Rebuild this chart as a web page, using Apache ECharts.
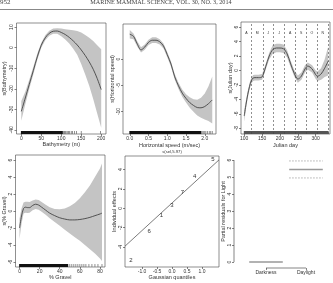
<!DOCTYPE html>
<html>
<head>
<meta charset="utf-8">
<script src="https://cdn.jsdelivr.net/npm/echarts@6/dist/echarts.min.js"></script>
<style>
html, body { margin: 0; padding: 0; background: #fff; }
#chart { width: 333px; height: 283px; }
</style>
</head>
<body>
<div id="chart"></div>
<script>
// page header
const pageNo = "952";
const journal = "MARINE MAMMAL SCIENCE, VOL. 30, NO. 3, 2014";

// s(Bathymetry)
const bathyX = [0, 10, 20, 30, 40, 50, 60, 70, 80, 90, 100, 110, 120, 130, 140, 150, 160, 170, 180, 190, 200];
const bathyFit = [-31, -24.5, -17.8, -11.2, -4.5, 1.2, 4.8, 7, 8, 8.1, 7.4, 6.4, 5, 3.3, 1.3, -1.1, -3.8, -6.9, -10.5, -15, -20.4];
const bathyLo = [-35.5, -27.5, -20, -13, -6, 0, 3.6, 5.8, 6.8, 6.8, 5.6, 4, 2, -0.5, -3.5, -8, -13, -18.5, -25, -32, -39];
const bathyHi = [-26, -21.5, -15.6, -9.4, -3, 2.4, 6, 8.2, 9.3, 9.5, 9.3, 8.9, 8.7, 8.5, 8.1, 7.4, 6.2, 4.8, 3.2, 1.2, -0.8];
const bathyRug = [[0, 103], [106, 106], [108, 108], [110, 110], [112, 112], [115, 115], [118, 118], [121, 121], [125, 125], [128, 128], [133, 133], [138, 138], [150, 150], [198, 198]];

// s(Horizontal speed)
const speedX = [0, 0.1, 0.2, 0.3, 0.4, 0.5, 0.6, 0.7, 0.8, 0.9, 1.0, 1.1, 1.2, 1.3, 1.4, 1.5, 1.6, 1.7, 1.8, 1.9, 2.0, 2.1, 2.2];
const speedFit = [4.75, 4.35, 2.9, 1.75, 2.3, 3.2, 3.6, 3.6, 3.3, 2.5, 0.85, -0.95, -3.4, -5.1, -6.5, -7.5, -8.3, -8.85, -9.25, -9.3, -9.05, -8.5, -7.8];
const speedLo = [3.95, 3.8, 2.4, 1.25, 1.8, 2.7, 3.05, 3.05, 2.8, 2.0, 0.35, -1.45, -3.95, -5.7, -7.2, -8.3, -9.3, -10.05, -10.75, -11.2, -11.55, -11.8, -12.3];
const speedHi = [5.55, 4.9, 3.4, 2.25, 2.8, 3.7, 4.15, 4.15, 3.8, 3.0, 1.35, -0.45, -2.85, -4.5, -5.8, -6.7, -7.3, -7.65, -7.75, -7.4, -6.55, -5.2, -3.3];
const speedRug = [[0, 1.9], [1.93, 1.93], [1.96, 1.96], [2.0, 2.0], [2.03, 2.03], [2.07, 2.07], [2.12, 2.12], [2.16, 2.16], [2.2, 2.2]];

// s(Julian day)
const julX = [100, 105, 110, 115, 120, 125, 130, 140, 150, 160, 170, 180, 190, 200, 210, 220, 230, 240, 250, 260, 270, 278, 290, 300, 305, 315, 325, 335];
const julFit = [-6.3, -4.7, -3.3, -2.2, -1.4, -1.05, -1.0, -1.0, -0.9, 0.5, 2.0, 2.9, 3.1, 3.1, 3.0, 2.3, 0.9, -0.4, -1.2, -0.8, 0.2, 0.6, 0.2, -0.6, -0.8, -0.5, 0.3, 1.3];
const julLo = [-7.1, -5.3, -3.8, -2.65, -1.8, -1.45, -1.4, -1.4, -1.3, 0.1, 1.55, 2.3, 2.5, 2.5, 2.4, 1.8, 0.45, -0.85, -1.7, -1.3, -0.3, 0.1, -0.3, -1.2, -1.45, -1.3, -0.9, -0.7];
const julHi = [-5.5, -4.1, -2.8, -1.75, -1.0, -0.65, -0.6, -0.6, -0.5, 0.9, 2.45, 3.5, 3.7, 3.7, 3.6, 2.8, 1.35, 0.05, -0.7, -0.3, 0.7, 1.1, 0.7, 0.0, -0.15, 0.3, 1.5, 3.3];
const julRug = [[100, 335]];
const monthStarts = [121, 152, 182, 213, 244, 274, 305, 335];
const monthMid = [106, 136.5, 167, 197.5, 228.5, 259, 289.5, 320];
const monthLetters = ["A", "M", "J", "J", "A", "S", "O", "N"];

// s(% Gravel)
const gravX = [0, 2, 4, 6, 8, 10, 13, 16, 19, 22, 26, 30, 35, 40, 45, 50, 55, 60, 65, 70, 75, 80, 82];
const gravFit = [-2.0, -0.6, 0.3, 0.45, 0.4, 0.4, 0.65, 0.8, 0.7, 0.45, 0.1, -0.25, -0.55, -0.8, -0.95, -1.05, -1.05, -1.0, -0.9, -0.75, -0.55, -0.35, -0.25];
const gravLo = [-3.3, -1.5, -0.3, -0.2, -0.25, -0.2, 0.1, 0.25, 0.15, -0.1, -0.45, -0.85, -1.3, -1.75, -2.2, -2.65, -3.1, -3.5, -4.0, -4.5, -5.0, -5.6, -5.9];
const gravHi = [-0.9, 0.3, 1.0, 1.1, 1.1, 1.05, 1.25, 1.35, 1.3, 1.05, 0.75, 0.45, 0.25, 0.2, 0.3, 0.55, 0.95, 1.5, 2.2, 3.0, 4.0, 5.0, 5.6];
const gravRug = [[0, 48], [50, 50], [52, 52], [54, 54], [56, 56], [58, 58], [60, 60], [62, 62], [64, 64], [66, 66], [69, 69], [72, 72], [75, 75], [78, 78], [82, 82]];

// random effect qq plot
const qqIds = ["2", "6", "1", "3", "7", "4", "5"];
const qqTheo = [-1.37, -0.76, -0.35, 0, 0.35, 0.76, 1.37];
const qqSample = [-5.4, -2.35, -0.75, 0.27, 1.6, 3.35, 5.05];
const qqLineX = [-1.57, 1.57];
const qqLineY = [-3.9, 5.0];

// Light factor
const lightLevels = ["Darkness", "Daylight"];
const lightFit = [0, 5.45];
const lightSe = [0, 0.5];

const FONT = "Liberation Sans, Arial, sans-serif";
const INK = "#333";

const grids = [
  { left: 13, top: 23, width: 93, height: 111 },
  { left: 123, top: 24, width: 93, height: 110 },
  { left: 241, top: 22, width: 89, height: 112 },
  { left: 13, top: 155, width: 92, height: 112 },
  { left: 125, top: 156, width: 94, height: 111 },
  { left: 234, top: 155, width: 96, height: 113 }
];

const xs = [
  { min: -12, max: 212, ticks: [0, 50, 100, 150, 200], name: "Bathymetry (m)", gap: 6.5 },
  { min: -0.18, max: 2.3, ticks: [0, 0.5, 1, 1.5, 2], name: "Horizontal speed (m/sec)", gap: 8, fmt: v => v.toFixed(1) },
  { min: 91, max: 340, ticks: [100, 150, 200, 250, 300], name: "Julian day", gap: 8.5 },
  { min: -4, max: 85, ticks: [0, 20, 40, 60, 80], name: "% Gravel", gap: 5.5 },
  { min: -1.57, max: 1.57, ticks: [-1, -0.5, 0, 0.5, 1], name: "Gaussian quantiles", gap: 7.5, fmt: v => v.toFixed(1) },
  { min: 0.2, max: 2.6, ticks: [1, 2], name: "", gap: 8, fmt: v => lightLevels[Math.round(v) - 1] }
];

const ys = [
  { min: -42, max: 12, ticks: [10, 0, -10, -20, -30, -40], name: "s(Bathymetry)", gap: 9.5 },
  { min: -14.3, max: 6.7, ticks: [0, -5, -10], name: "s(Horizontal speed)", gap: 7 },
  { min: -8.8, max: 6.7, ticks: [6, 4, 2, 0, -2, -4, -6, -8], name: "s(Julian day)", gap: 7 },
  { min: -6.6, max: 6.6, ticks: [6, 4, 2, 0, -2, -4, -6], name: "s(% Gravel)", gap: 8.5 },
  { min: -6.05, max: 5.4, ticks: [4, 2, 0, -2, -4], name: "Individual effects", gap: 6.5 },
  { min: -0.35, max: 6.3, ticks: [0, 1, 2, 3, 4, 5, 6], name: "Partial residuals for Light", gap: 5 }
];

function xAxis(o, i) {
  return {
    type: "value", gridIndex: i, min: o.min, max: o.max,
    name: o.name, nameLocation: "middle", nameGap: o.gap,
    nameTextStyle: { fontSize: 5.5, color: INK, fontFamily: FONT },
    axisLine: { show: false, onZero: false }, splitLine: { show: false },
    axisTick: { show: true, length: 2, customValues: o.ticks, lineStyle: { color: INK, width: 0.6 } },
    axisLabel: { show: true, customValues: o.ticks, fontSize: 5, color: INK, margin: 2, fontFamily: FONT, formatter: o.fmt }
  };
}

function yAxis(o, i) {
  return {
    type: "value", gridIndex: i, min: o.min, max: o.max,
    name: o.name, nameLocation: "middle", nameGap: o.gap,
    nameTextStyle: { fontSize: 5.5, color: INK, fontFamily: FONT },
    axisLine: { show: false, onZero: false }, splitLine: { show: false },
    axisTick: { show: true, length: 2, customValues: o.ticks, lineStyle: { color: INK, width: 0.6 } },
    axisLabel: { show: true, customValues: o.ticks, rotate: 90, fontSize: 5, color: INK, margin: 2, fontFamily: FONT }
  };
}

function bandSeries(gi, xv, lo, hi) {
  return {
    type: "custom", xAxisIndex: gi, yAxisIndex: gi, silent: true, clip: true, z: 1,
    data: [[xv[0], lo[0]]],
    renderItem: function (params, api) {
      const top = xv.map((x, i) => api.coord([x, hi[i]]));
      const bot = xv.map((x, i) => api.coord([x, lo[i]])).reverse();
      return { type: "polygon", shape: { points: top.concat(bot) }, style: { fill: "#c4c4c4" } };
    }
  };
}

function fitSeries(gi, xv, yv) {
  return {
    type: "line", xAxisIndex: gi, yAxisIndex: gi, silent: true, z: 3,
    data: xv.map((x, i) => [x, yv[i]]),
    smooth: 0.3, symbol: "none",
    lineStyle: { color: "#444", width: 0.9 }
  };
}

function rugSeries(gi, spans) {
  const yMin = ys[gi].min;
  return {
    type: "custom", xAxisIndex: gi, yAxisIndex: gi, silent: true, clip: true, z: 4,
    data: spans,
    renderItem: function (params, api) {
      const a = api.coord([api.value(0), yMin]);
      const b = api.coord([api.value(1), yMin]);
      const dense = api.value(1) > api.value(0);
      return {
        type: "rect",
        shape: { x: a[0] - 0.4, y: a[1] - 3, width: b[0] - a[0] + 0.8, height: 3 },
        style: { fill: gi === 2 ? "#555" : (dense ? "#111" : "#777") }
      };
    }
  };
}

function textSeries(gi, pts, labels, size) {
  return {
    type: "custom", xAxisIndex: gi, yAxisIndex: gi, silent: true, z: 5,
    data: pts,
    renderItem: function (params, api) {
      const p = api.coord([api.value(0), api.value(1)]);
      return {
        type: "text", x: p[0], y: p[1],
        style: { text: labels[params.dataIndex], fill: INK, fontSize: size, fontFamily: FONT, align: "center", verticalAlign: "middle" }
      };
    }
  };
}

const series = [
  bandSeries(0, bathyX, bathyLo, bathyHi),
  fitSeries(0, bathyX, bathyFit),
  rugSeries(0, bathyRug),

  bandSeries(1, speedX, speedLo, speedHi),
  fitSeries(1, speedX, speedFit),
  rugSeries(1, speedRug),

  bandSeries(2, julX, julLo, julHi),
  Object.assign(fitSeries(2, julX, julFit), {
    markLine: {
      silent: true, symbol: ["none", "none"], label: { show: false },
      lineStyle: { color: "#444", width: 0.6, type: [2, 2] },
      data: monthStarts.map(d => ({ xAxis: d }))
    }
  }),
  rugSeries(2, julRug),
  textSeries(2, monthMid.map(m => [m, 5.2]), monthLetters, 3.5),

  bandSeries(3, gravX, gravLo, gravHi),
  fitSeries(3, gravX, gravFit),
  rugSeries(3, gravRug),

  {
    type: "line", xAxisIndex: 4, yAxisIndex: 4, silent: true, symbol: "none",
    data: qqLineX.map((x, i) => [x, qqLineY[i]]),
    lineStyle: { color: "#444", width: 0.7 }
  },
  textSeries(4, qqTheo.map((x, i) => [x, qqSample[i]]), qqIds, 6),

  {
    type: "custom", xAxisIndex: 5, yAxisIndex: 5, silent: true,
    data: lightFit.map((f, i) => [i + 1, f, lightSe[i]]),
    renderItem: function (params, api) {
      const lv = api.value(0), f = api.value(1), se = api.value(2);
      const seg = (y, style) => {
        const a = api.coord([lv - 0.42, y]);
        const b = api.coord([lv + 0.42, y]);
        return { type: "line", shape: { x1: a[0], y1: a[1], x2: b[0], y2: b[1] }, style: style };
      };
      const kids = [seg(f, { stroke: "#999", lineWidth: 1.5 })];
      if (se > 0) {
        kids.push(seg(f + se, { stroke: "#999", lineWidth: 0.8, lineDash: [1.5, 1.5] }));
        kids.push(seg(f - se, { stroke: "#999", lineWidth: 0.8, lineDash: [1.5, 1.5] }));
      }
      return { type: "group", children: kids };
    }
  },
  {
    // R style axis lines, from first to last tick
    type: "custom", xAxisIndex: 5, yAxisIndex: 5, silent: true,
    data: [[1, 0]],
    renderItem: function (params, api) {
      const yt = ys[5].ticks, xt = xs[5].ticks;
      const a = api.coord([xt[0], ys[5].min]), b = api.coord([xt[xt.length - 1], ys[5].min]);
      const c = api.coord([xs[5].min, yt[0]]), d = api.coord([xs[5].min, yt[yt.length - 1]]);
      const st = { stroke: INK, lineWidth: 0.6 };
      return {
        type: "group", children: [
          { type: "line", shape: { x1: a[0], y1: a[1], x2: b[0], y2: b[1] }, style: st },
          { type: "line", shape: { x1: c[0], y1: c[1], x2: d[0], y2: d[1] }, style: st }
        ]
      };
    }
  }
];

const chart = echarts.init(document.getElementById("chart"), null, { renderer: "canvas" });
chart.setOption({
  backgroundColor: "#fff",
  animation: false,
  textStyle: { fontFamily: FONT },
  grid: grids.map((g, i) => Object.assign({
    show: i !== 5, borderColor: "#444", borderWidth: 0.6, backgroundColor: "transparent"
  }, g)),
  xAxis: xs.map(xAxis),
  yAxis: ys.map(yAxis),
  graphic: [
    { type: "text", left: 0, top: -1, style: { text: pageNo, fontSize: 7, fill: "#444", fontFamily: "Liberation Serif, serif" } },
    { type: "text", x: 161, y: -1, style: { text: journal, fontSize: 6.2, fill: "#444", fontFamily: "Liberation Serif, serif", align: "center" } },
    { type: "line", shape: { x1: 0, y1: 9.5, x2: 333, y2: 9.5 }, style: { stroke: "#888", lineWidth: 1 } },
    { type: "text", x: 172, y: 150, style: { text: "s(sel,5.97)", fontSize: 4.2, fill: INK, fontFamily: FONT, align: "center" } }
  ],
  series: series
});
</script>
</body>
</html>
